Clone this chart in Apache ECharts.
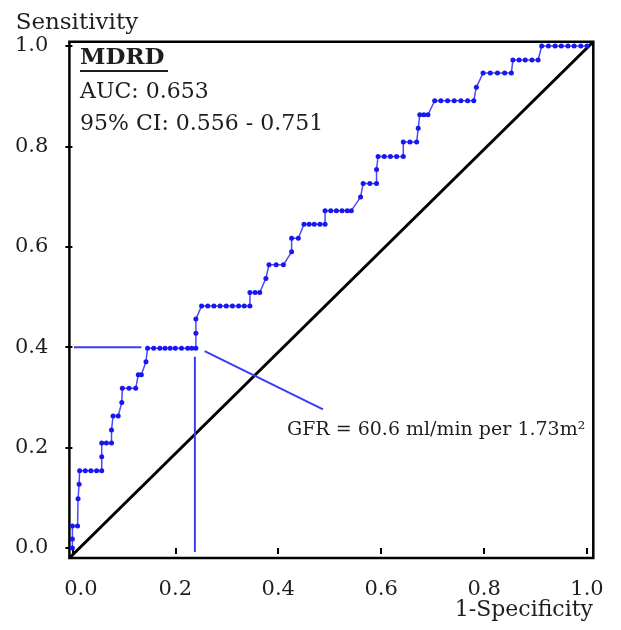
<!DOCTYPE html>
<html><head><meta charset="utf-8">
<script src="https://cdn.jsdelivr.net/npm/echarts@6/dist/echarts.min.js"></script>
<style>html,body{margin:0;padding:0;background:#fff}#c{width:621px;height:630px}</style>
</head><body><div id="c"></div>
<script>
// ROC curve vertices (1-Specificity, Sensitivity)
const fpr = [0,0,0,0.010,0.011,0.013,0.014,0.025,0.036,0.047,0.057,0.057,0.057,0.066,0.076,0.076,0.079,0.089,0.096,0.097,0.110,0.123,0.128,0.134,0.143,0.146,0.158,0.170,0.180,0.190,0.200,0.212,0.224,0.232,0.240,0.240,0.240,0.251,0.263,0.275,0.287,0.299,0.311,0.323,0.334,0.345,0.345,0.355,0.364,0.376,0.382,0.396,0.410,0.426,0.426,0.439,0.450,0.460,0.470,0.481,0.491,0.491,0.502,0.513,0.524,0.534,0.542,0.560,0.565,0.578,0.591,0.591,0.594,0.606,0.618,0.630,0.643,0.643,0.656,0.669,0.672,0.675,0.683,0.691,0.704,0.716,0.729,0.742,0.755,0.768,0.780,0.785,0.798,0.812,0.826,0.840,0.853,0.856,0.868,0.880,0.893,0.905,0.912,0.925,0.938,0.950,0.963,0.975,0.988,1.0];
const tpr = [0,0.018,0.044,0.044,0.098,0.127,0.154,0.154,0.154,0.154,0.154,0.182,0.209,0.209,0.209,0.235,0.263,0.263,0.290,0.318,0.318,0.318,0.345,0.345,0.371,0.398,0.398,0.398,0.398,0.398,0.398,0.398,0.398,0.398,0.398,0.428,0.456,0.482,0.482,0.482,0.482,0.482,0.482,0.482,0.482,0.482,0.509,0.509,0.509,0.537,0.564,0.564,0.564,0.590,0.617,0.617,0.645,0.645,0.645,0.645,0.645,0.672,0.672,0.672,0.672,0.672,0.672,0.699,0.726,0.726,0.726,0.754,0.780,0.780,0.780,0.780,0.780,0.809,0.809,0.809,0.836,0.863,0.863,0.863,0.891,0.891,0.891,0.891,0.891,0.891,0.891,0.918,0.946,0.946,0.946,0.946,0.946,0.972,0.972,0.972,0.972,0.972,1.0,1.0,1.0,1.0,1.0,1.0,1.0,1.0];

// Axis ticks
const tickValues = [0, 0.2, 0.4, 0.6, 0.8, 1.0];
// Frame extent (data units) – the box runs slightly beyond 0..1
const frameX = [-0.006, 1.012];
const frameY = [-0.02, 1.009];

// Cut-off annotation lines
const cutHX = [0.003, 0.134], cutHY = [0.4, 0.4];
const cutVX = [0.238, 0.238], cutVY = [0.381, -0.008];
const pointerX = [0.257, 0.487], pointerY = [0.392, 0.276];

// Texts
const titleText = 'MDRD';
const aucText = 'AUC: 0.653';
const ciText = '95% CI: 0.556 - 0.751';
const gfrText = 'GFR = 60.6 ml/min per 1.73m²';
const xName = '1-Specificity';
const yName = 'Sensitivity';

const FONT = 'DejaVu Serif';
const TXT = '#1e1e1e';
const chart = echarts.init(document.getElementById('c'), null, {renderer: 'canvas'});

const pair = (xs, ys) => xs.map((x, i) => [x, ys[i]]);

chart.setOption({
  animation: false,
  backgroundColor: '#fff',
  grid: [
    {left: 69.4, top: 41.7, right: 27.7, bottom: 72, outerBoundsMode: 'none', containLabel: false,
     show: true, borderColor: '#000', borderWidth: 2.5, backgroundColor: 'transparent'},
    {left: 72.4, top: 46, right: 34, bottom: 82, outerBoundsMode: 'none', containLabel: false}
  ],
  xAxis: [
    {gridIndex: 0, type: 'value', min: frameX[0], max: frameX[1], show: false},
    {gridIndex: 1, type: 'value', min: 0, max: 1, interval: 0.2, offset: 10,
     axisLine: {show: false},
     axisTick: {show: true, length: 6, lineStyle: {color: '#000', width: 2}},
     splitLine: {show: false},
     axisLabel: {margin: 21, fontSize: 21, fontFamily: FONT, color: TXT,
       formatter: v => {
         const s = v.toFixed(1);
         if (!tickValues.includes(+s)) return '';
         return +s === 0 ? '{first|' + s + '}' : s;
       },
       rich: {first: {fontSize: 21, fontFamily: FONT, color: TXT, padding: [0, 0, 0, 17]}}}
    }
  ],
  yAxis: [
    {gridIndex: 0, type: 'value', min: frameY[0], max: frameY[1], show: false},
    {gridIndex: 1, type: 'value', min: 0, max: 1, interval: 0.2, offset: 3,
     axisLine: {show: false},
     axisTick: {show: true, length: 7, lineStyle: {color: '#000', width: 2}},
     splitLine: {show: false},
     axisLabel: {margin: 21, fontSize: 21, fontFamily: FONT, color: TXT,
       formatter: v => v.toFixed(1)},
     name: yName, nameLocation: 'end', nameGap: 11,
     nameTextStyle: {fontSize: 23, fontFamily: FONT, color: TXT, padding: [0, 0, 0, 9]}
    }
  ],
  series: [
    {type: 'line', xAxisIndex: 0, yAxisIndex: 0, silent: true, symbol: 'none',
     data: [[frameX[0], frameY[0]], [frameX[1], frameY[1]]],
     lineStyle: {color: '#000', width: 3}},
    {type: 'line', xAxisIndex: 1, yAxisIndex: 1, silent: true, symbol: 'none', clip: false,
     data: pair(cutHX, cutHY), lineStyle: {color: '#3b3bf2', width: 2}},
    {type: 'line', xAxisIndex: 1, yAxisIndex: 1, silent: true, symbol: 'none', clip: false,
     data: pair(cutVX, cutVY), lineStyle: {color: '#3b3bf2', width: 2}},
    {type: 'line', xAxisIndex: 1, yAxisIndex: 1, silent: true, symbol: 'none', clip: false,
     data: pair(pointerX, pointerY), lineStyle: {color: '#3b3bf2', width: 2}},
    {type: 'line', xAxisIndex: 1, yAxisIndex: 1, silent: true, clip: false,
     data: pair(fpr, tpr), showAllSymbol: true, symbol: 'circle', symbolSize: 5,
     itemStyle: {color: '#1717ee'}, lineStyle: {color: '#4a4aff', width: 1.5}}
  ],
  graphic: [
    {type: 'text', left: 80, top: 47, style: {text: titleText, font: 'bold 23px "' + FONT + '"', fill: TXT}},
    {type: 'line', shape: {x1: 80, y1: 71, x2: 168, y2: 71}, style: {stroke: TXT, lineWidth: 2}},
    {type: 'text', left: 80, top: 81, style: {text: aucText, font: '22px "' + FONT + '"', fill: TXT}},
    {type: 'text', left: 80, top: 113, style: {text: ciText, font: '22px "' + FONT + '"', fill: TXT}},
    {type: 'text', left: 287, top: 421, style: {text: gfrText, font: '19px "' + FONT + '"', fill: TXT}},
    {type: 'text', right: 28, top: 599, style: {text: xName, font: '22px "' + FONT + '"', fill: TXT}}
  ]
});
</script></body></html>
